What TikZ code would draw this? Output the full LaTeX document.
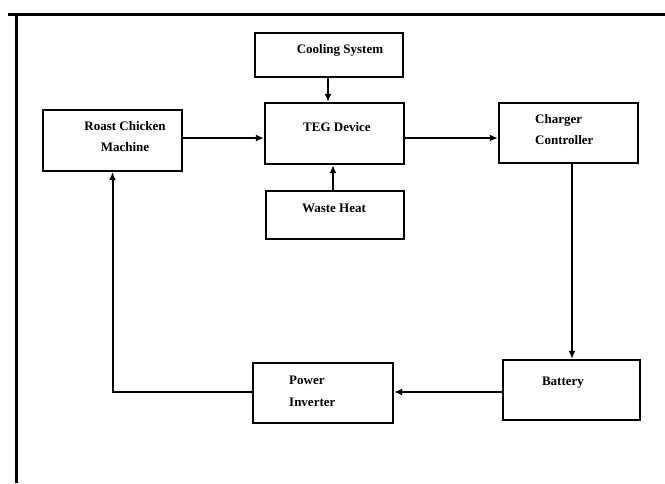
\documentclass[tikz,border=0pt]{standalone}
\usepackage{fontspec}
\setmainfont{Liberation Serif}
\usetikzlibrary{arrows.meta}
\begin{document}
\begin{tikzpicture}[x=1pt,y=-1pt,
  box/.style={draw,line width=2.2pt,minimum width=#1,inner sep=0pt},
  txt/.style={font=\bfseries\fontsize{13}{14}\selectfont,inner sep=0pt},
  arr/.style={line width=2pt,-{Latex[length=8pt,width=7pt]}},
  frame/.style={line width=3pt}]
\useasboundingbox (0,0) rectangle (665,483);
% frame
\coordinate (f1) at (8,14);
\coordinate (f2) at (665,14);
\coordinate (f3) at (16,14);
\coordinate (f4) at (16,483);
\draw[frame] (f1) -- (f2);
\draw[frame] (f3) -- (f4);
% boxes
\node[box=148pt,minimum height=44pt] (cool) at (329,55) {};
\node[box=139pt,minimum height=61pt] (teg) at (334.5,133.5) {};
\node[box=138pt,minimum height=48pt] (waste) at (335,215) {};
\node[box=139pt,minimum height=61pt] (rcm) at (112.5,140.5) {};
\node[box=139pt,minimum height=60pt] (chg) at (568.5,133) {};
\node[box=137pt,minimum height=60pt] (bat) at (571.5,390) {};
\node[box=140pt,minimum height=60pt] (inv) at (323,393) {};
% texts
\node[txt] (tcool) at (340,50) {Cooling System};
\node[txt] (tteg) at (337,127) {TEG Device};
\node[txt] (twaste) at (334,208) {Waste Heat};
\node[txt] (trcm1) at (125,126) {Roast Chicken};
\node[txt] (trcm2) at (125,147) {Machine};
\node[txt,anchor=west] (tchg1) at (535,120) {Charger};
\node[txt,anchor=west] (tchg2) at (535,140) {Controller};
\node[txt] (tbat) at (563,383) {Battery};
\node[txt,anchor=west] (tinv1) at (289,380) {Power};
\node[txt,anchor=west] (tinv2) at (289,402) {Inverter};
% connectors
\draw[arr] (cool.south -| 328,0) -- (teg.north -| 328,0);
\draw[arr] (waste.north -| 333,0) -- (teg.south -| 333,0);
\draw[arr] (rcm.east |- 0,138) -- (teg.west |- 0,138);
\draw[arr] (teg.east |- 0,138) -- (chg.west |- 0,138);
\draw[arr] (chg.south -| 572,0) -- (bat.north -| 572,0);
\draw[arr] (bat.west |- 0,392) -- (inv.east |- 0,392);
\draw[arr] (inv.west |- 0,392) -| (rcm.south);
\end{tikzpicture}
\end{document}
